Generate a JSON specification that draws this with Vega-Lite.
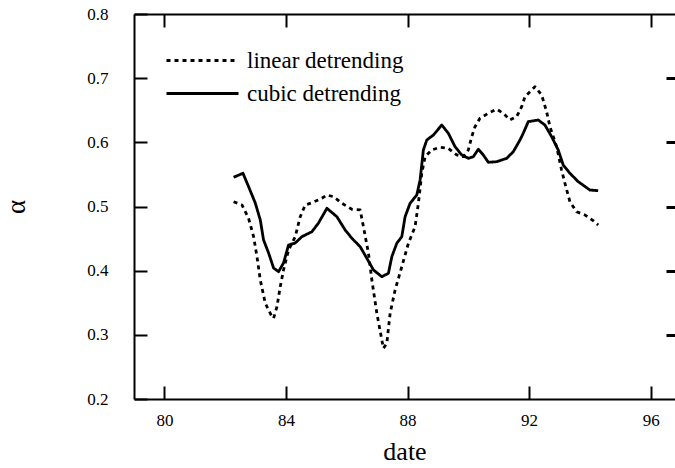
{
  "$schema": "https://vega.github.io/schema/vega-lite/v6.json",
  "width": 541,
  "height": 385,
  "autosize": {"type": "none"},
  "padding": {"left": 134, "top": 14, "right": 0, "bottom": 69},
  "background": "white",
  "config": {
    "font": "Liberation Serif",
    "view": {"stroke": null},
    "axis": {
      "grid": false,
      "domainColor": "black",
      "domainWidth": 2,
      "tickColor": "black",
      "tickWidth": 2,
      "tickSize": -13,
      "labelColor": "black",
      "labelFont": "Liberation Serif",
      "labelFontSize": 17,
      "titleFont": "Liberation Serif",
      "titleFontWeight": "normal",
      "titleColor": "black"
    }
  },
  "datasets": {
    "alpha": [
      {"method": "linear detrending", "date": 82.277, "alpha": 0.5075},
      {"method": "linear detrending", "date": 82.553, "alpha": 0.5024},
      {"method": "linear detrending", "date": 82.770, "alpha": 0.4816},
      {"method": "linear detrending", "date": 82.935, "alpha": 0.4530},
      {"method": "linear detrending", "date": 83.046, "alpha": 0.4218},
      {"method": "linear detrending", "date": 83.155, "alpha": 0.3855},
      {"method": "linear detrending", "date": 83.319, "alpha": 0.3492},
      {"method": "linear detrending", "date": 83.539, "alpha": 0.3283},
      {"method": "linear detrending", "date": 83.592, "alpha": 0.3258},
      {"method": "linear detrending", "date": 83.704, "alpha": 0.3439},
      {"method": "linear detrending", "date": 83.812, "alpha": 0.3750},
      {"method": "linear detrending", "date": 83.920, "alpha": 0.4011},
      {"method": "linear detrending", "date": 84.085, "alpha": 0.4322},
      {"method": "linear detrending", "date": 84.305, "alpha": 0.4530},
      {"method": "linear detrending", "date": 84.469, "alpha": 0.4841},
      {"method": "linear detrending", "date": 84.634, "alpha": 0.5024},
      {"method": "linear detrending", "date": 84.854, "alpha": 0.5059},
      {"method": "linear detrending", "date": 85.182, "alpha": 0.5128},
      {"method": "linear detrending", "date": 85.347, "alpha": 0.5179},
      {"method": "linear detrending", "date": 85.564, "alpha": 0.5153},
      {"method": "linear detrending", "date": 85.840, "alpha": 0.5050},
      {"method": "linear detrending", "date": 86.168, "alpha": 0.4957},
      {"method": "linear detrending", "date": 86.441, "alpha": 0.4946},
      {"method": "linear detrending", "date": 86.549, "alpha": 0.4685},
      {"method": "linear detrending", "date": 86.714, "alpha": 0.4271},
      {"method": "linear detrending", "date": 86.826, "alpha": 0.3855},
      {"method": "linear detrending", "date": 86.990, "alpha": 0.3336},
      {"method": "linear detrending", "date": 87.154, "alpha": 0.2920},
      {"method": "linear detrending", "date": 87.207, "alpha": 0.2790},
      {"method": "linear detrending", "date": 87.318, "alpha": 0.2868},
      {"method": "linear detrending", "date": 87.427, "alpha": 0.3336},
      {"method": "linear detrending", "date": 87.591, "alpha": 0.3699},
      {"method": "linear detrending", "date": 87.811, "alpha": 0.4062},
      {"method": "linear detrending", "date": 88.028, "alpha": 0.4427},
      {"method": "linear detrending", "date": 88.248, "alpha": 0.4685},
      {"method": "linear detrending", "date": 88.357, "alpha": 0.5050},
      {"method": "linear detrending", "date": 88.469, "alpha": 0.5518},
      {"method": "linear detrending", "date": 88.577, "alpha": 0.5776},
      {"method": "linear detrending", "date": 88.797, "alpha": 0.5881},
      {"method": "linear detrending", "date": 89.070, "alpha": 0.5923},
      {"method": "linear detrending", "date": 89.343, "alpha": 0.5907},
      {"method": "linear detrending", "date": 89.619, "alpha": 0.5803},
      {"method": "linear detrending", "date": 89.836, "alpha": 0.5776},
      {"method": "linear detrending", "date": 90.000, "alpha": 0.5881},
      {"method": "linear detrending", "date": 90.112, "alpha": 0.6088},
      {"method": "linear detrending", "date": 90.220, "alpha": 0.6244},
      {"method": "linear detrending", "date": 90.384, "alpha": 0.6375},
      {"method": "linear detrending", "date": 90.657, "alpha": 0.6453},
      {"method": "linear detrending", "date": 90.933, "alpha": 0.6515},
      {"method": "linear detrending", "date": 91.150, "alpha": 0.6453},
      {"method": "linear detrending", "date": 91.370, "alpha": 0.6348},
      {"method": "linear detrending", "date": 91.590, "alpha": 0.6400},
      {"method": "linear detrending", "date": 91.755, "alpha": 0.6555},
      {"method": "linear detrending", "date": 91.863, "alpha": 0.6711},
      {"method": "linear detrending", "date": 92.192, "alpha": 0.6867},
      {"method": "linear detrending", "date": 92.412, "alpha": 0.6738},
      {"method": "linear detrending", "date": 92.576, "alpha": 0.6477},
      {"method": "linear detrending", "date": 92.685, "alpha": 0.6244},
      {"method": "linear detrending", "date": 92.905, "alpha": 0.5932},
      {"method": "linear detrending", "date": 93.069, "alpha": 0.5569},
      {"method": "linear detrending", "date": 93.178, "alpha": 0.5362},
      {"method": "linear detrending", "date": 93.342, "alpha": 0.5075},
      {"method": "linear detrending", "date": 93.562, "alpha": 0.4919},
      {"method": "linear detrending", "date": 93.835, "alpha": 0.4868},
      {"method": "linear detrending", "date": 94.108, "alpha": 0.4779},
      {"method": "linear detrending", "date": 94.272, "alpha": 0.4712},
      {"method": "cubic detrending", "date": 82.277, "alpha": 0.5455},
      {"method": "cubic detrending", "date": 82.586, "alpha": 0.5518},
      {"method": "cubic detrending", "date": 82.770, "alpha": 0.5309},
      {"method": "cubic detrending", "date": 82.990, "alpha": 0.5055},
      {"method": "cubic detrending", "date": 83.155, "alpha": 0.4790},
      {"method": "cubic detrending", "date": 83.263, "alpha": 0.4478},
      {"method": "cubic detrending", "date": 83.428, "alpha": 0.4276},
      {"method": "cubic detrending", "date": 83.592, "alpha": 0.4042},
      {"method": "cubic detrending", "date": 83.756, "alpha": 0.3984},
      {"method": "cubic detrending", "date": 83.920, "alpha": 0.4120},
      {"method": "cubic detrending", "date": 84.085, "alpha": 0.4400},
      {"method": "cubic detrending", "date": 84.305, "alpha": 0.4431},
      {"method": "cubic detrending", "date": 84.525, "alpha": 0.4530},
      {"method": "cubic detrending", "date": 84.854, "alpha": 0.4607},
      {"method": "cubic detrending", "date": 85.071, "alpha": 0.4743},
      {"method": "cubic detrending", "date": 85.347, "alpha": 0.4972},
      {"method": "cubic detrending", "date": 85.675, "alpha": 0.4841},
      {"method": "cubic detrending", "date": 85.948, "alpha": 0.4634},
      {"method": "cubic detrending", "date": 86.168, "alpha": 0.4505},
      {"method": "cubic detrending", "date": 86.441, "alpha": 0.4374},
      {"method": "cubic detrending", "date": 86.661, "alpha": 0.4193},
      {"method": "cubic detrending", "date": 86.878, "alpha": 0.4011},
      {"method": "cubic detrending", "date": 87.154, "alpha": 0.3906},
      {"method": "cubic detrending", "date": 87.371, "alpha": 0.3959},
      {"method": "cubic detrending", "date": 87.483, "alpha": 0.4218},
      {"method": "cubic detrending", "date": 87.647, "alpha": 0.4427},
      {"method": "cubic detrending", "date": 87.811, "alpha": 0.4530},
      {"method": "cubic detrending", "date": 87.920, "alpha": 0.4841},
      {"method": "cubic detrending", "date": 88.084, "alpha": 0.5050},
      {"method": "cubic detrending", "date": 88.304, "alpha": 0.5179},
      {"method": "cubic detrending", "date": 88.413, "alpha": 0.5413},
      {"method": "cubic detrending", "date": 88.521, "alpha": 0.5881},
      {"method": "cubic detrending", "date": 88.633, "alpha": 0.6036},
      {"method": "cubic detrending", "date": 88.850, "alpha": 0.6114},
      {"method": "cubic detrending", "date": 89.126, "alpha": 0.6270},
      {"method": "cubic detrending", "date": 89.343, "alpha": 0.6141},
      {"method": "cubic detrending", "date": 89.563, "alpha": 0.5932},
      {"method": "cubic detrending", "date": 89.783, "alpha": 0.5803},
      {"method": "cubic detrending", "date": 90.000, "alpha": 0.5751},
      {"method": "cubic detrending", "date": 90.164, "alpha": 0.5776},
      {"method": "cubic detrending", "date": 90.329, "alpha": 0.5892},
      {"method": "cubic detrending", "date": 90.493, "alpha": 0.5803},
      {"method": "cubic detrending", "date": 90.657, "alpha": 0.5689},
      {"method": "cubic detrending", "date": 90.933, "alpha": 0.5698},
      {"method": "cubic detrending", "date": 91.262, "alpha": 0.5751},
      {"method": "cubic detrending", "date": 91.479, "alpha": 0.5854},
      {"method": "cubic detrending", "date": 91.699, "alpha": 0.6036},
      {"method": "cubic detrending", "date": 91.807, "alpha": 0.6141},
      {"method": "cubic detrending", "date": 91.972, "alpha": 0.6322},
      {"method": "cubic detrending", "date": 92.300, "alpha": 0.6348},
      {"method": "cubic detrending", "date": 92.520, "alpha": 0.6270},
      {"method": "cubic detrending", "date": 92.741, "alpha": 0.6088},
      {"method": "cubic detrending", "date": 92.958, "alpha": 0.5881},
      {"method": "cubic detrending", "date": 93.122, "alpha": 0.5647},
      {"method": "cubic detrending", "date": 93.342, "alpha": 0.5518},
      {"method": "cubic detrending", "date": 93.615, "alpha": 0.5387},
      {"method": "cubic detrending", "date": 94.000, "alpha": 0.5257},
      {"method": "cubic detrending", "date": 94.272, "alpha": 0.5246}
    ]
  },
  "data": {"name": "alpha"},
  "layer": [
    {
      "mark": {"type": "line", "color": "black", "strokeWidth": 2.8, "strokeCap": "butt", "strokeJoin": "round"},
      "encoding": {
        "x": {
          "field": "date", "type": "quantitative",
          "scale": {"domain": [79, 96.8], "nice": false, "zero": false},
          "axis": {"orient": "bottom", "values": [80, 84, 88, 92, 96], "title": "date",
                   "labelPadding": 26, "titleFontSize": 26, "titlePadding": 10}
        },
        "y": {
          "field": "alpha", "type": "quantitative",
          "scale": {"domain": [0.2, 0.8], "nice": false, "zero": false},
          "axis": {"orient": "left", "values": [0.2, 0.3, 0.4, 0.5, 0.6, 0.7, 0.8], "format": ".1f",
                   "title": "α", "labelPadding": 39, "titleFontSize": 27, "titlePadding": 56}
        },
        "strokeDash": {
          "field": "method", "type": "nominal",
          "scale": {"domain": ["linear detrending", "cubic detrending"], "range": [[4, 4], [1, 0]]},
          "legend": {
            "orient": "none", "legendX": 31, "legendY": 30, "title": null,
            "symbolType": "stroke", "symbolSize": 5184, "symbolStrokeWidth": 2.8,
            "symbolStrokeColor": "black", "labelFont": "Liberation Serif", "labelFontSize": 23,
            "labelColor": "black", "labelOffset": 7, "padding": 0, "rowPadding": 0, "clipHeight": 33
          }
        }
      }
    },
    {
      "mark": {"type": "point", "opacity": 0},
      "encoding": {
        "x": {
          "field": "date", "type": "quantitative",
          "axis": {"orient": "top", "values": [80, 84, 88, 92, 96], "labels": false, "title": null}
        },
        "y": {
          "field": "alpha", "type": "quantitative",
          "axis": {"orient": "right", "values": [0.3, 0.4, 0.5, 0.6, 0.7], "labels": false,
                   "title": null, "domain": false, "tickSize": -9, "tickWidth": 3}
        }
      }
    }
  ],
  "resolve": {"axis": {"x": "independent", "y": "independent"}}
}
